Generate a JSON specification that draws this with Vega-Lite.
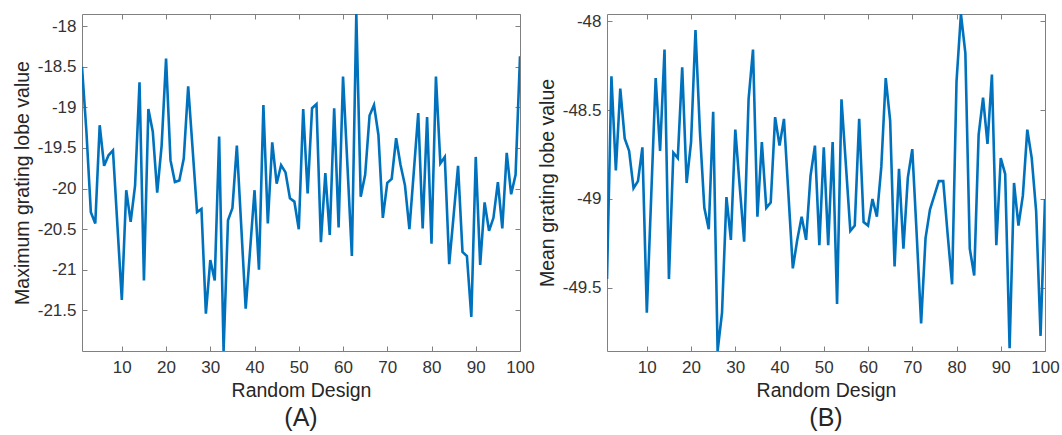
{
  "$schema": "https://vega.github.io/schema/vega-lite/v6.json",
  "autosize": {"type": "pad"},
  "padding": {"left": 12, "top": 12, "right": 0, "bottom": 0},
  "background": "white",
  "spacing": 2,
  "config": {
    "font": "Liberation Sans",
    "view": {"stroke": null},
    "axis": {
      "domainColor": "#808080",
      "tickColor": "#808080",
      "labelColor": "#333333",
      "titleColor": "#262626",
      "labelFontSize": 17,
      "titleFontSize": 19.5,
      "titleFontWeight": "normal",
      "grid": false,
      "tickSize": -5,
      "domainWidth": 1,
      "tickWidth": 1
    },
    "title": {"fontSize": 25, "fontWeight": "normal", "color": "#262626"}
  },
  "datasets": {
    "a": [
      {"design": 1, "value": -18.5}, {"design": 2, "value": -19.3}, {"design": 3, "value": -20.29}, {"design": 4, "value": -20.43}, {"design": 5, "value": -19.22},
      {"design": 6, "value": -19.72}, {"design": 7, "value": -19.59}, {"design": 8, "value": -19.53}, {"design": 9, "value": -20.45}, {"design": 10, "value": -21.37},
      {"design": 11, "value": -20.02}, {"design": 12, "value": -20.41}, {"design": 13, "value": -19.96}, {"design": 14, "value": -18.69}, {"design": 15, "value": -21.13},
      {"design": 16, "value": -19.02}, {"design": 17, "value": -19.3}, {"design": 18, "value": -20.05}, {"design": 19, "value": -19.47}, {"design": 20, "value": -18.4},
      {"design": 21, "value": -19.65}, {"design": 22, "value": -19.92}, {"design": 23, "value": -19.9}, {"design": 24, "value": -19.63}, {"design": 25, "value": -18.74},
      {"design": 26, "value": -19.51}, {"design": 27, "value": -20.29}, {"design": 28, "value": -20.25}, {"design": 29, "value": -21.54}, {"design": 30, "value": -20.88},
      {"design": 31, "value": -21.13}, {"design": 32, "value": -19.36}, {"design": 33, "value": -22.0}, {"design": 34, "value": -20.39}, {"design": 35, "value": -20.24},
      {"design": 36, "value": -19.47}, {"design": 37, "value": -20.47}, {"design": 38, "value": -21.48}, {"design": 39, "value": -20.75}, {"design": 40, "value": -20.02},
      {"design": 41, "value": -21.0}, {"design": 42, "value": -18.97}, {"design": 43, "value": -20.43}, {"design": 44, "value": -19.43}, {"design": 45, "value": -19.94},
      {"design": 46, "value": -19.71}, {"design": 47, "value": -19.8}, {"design": 48, "value": -20.12}, {"design": 49, "value": -20.16}, {"design": 50, "value": -20.5},
      {"design": 51, "value": -19.02}, {"design": 52, "value": -20.06}, {"design": 53, "value": -19.01}, {"design": 54, "value": -18.96}, {"design": 55, "value": -20.66},
      {"design": 56, "value": -19.81}, {"design": 57, "value": -20.57}, {"design": 58, "value": -19.01}, {"design": 59, "value": -20.48}, {"design": 60, "value": -18.62},
      {"design": 61, "value": -19.72}, {"design": 62, "value": -20.83}, {"design": 63, "value": -17.85}, {"design": 64, "value": -20.1}, {"design": 65, "value": -19.83},
      {"design": 66, "value": -19.1}, {"design": 67, "value": -18.97}, {"design": 68, "value": -19.34}, {"design": 69, "value": -20.36}, {"design": 70, "value": -19.93},
      {"design": 71, "value": -19.88}, {"design": 72, "value": -19.38}, {"design": 73, "value": -19.71}, {"design": 74, "value": -19.96}, {"design": 75, "value": -20.5},
      {"design": 76, "value": -19.79}, {"design": 77, "value": -19.07}, {"design": 78, "value": -20.49}, {"design": 79, "value": -19.12}, {"design": 80, "value": -20.68},
      {"design": 81, "value": -18.62}, {"design": 82, "value": -19.69}, {"design": 83, "value": -19.61}, {"design": 84, "value": -20.93}, {"design": 85, "value": -20.33},
      {"design": 86, "value": -19.72}, {"design": 87, "value": -20.78}, {"design": 88, "value": -20.83}, {"design": 89, "value": -21.58}, {"design": 90, "value": -19.61},
      {"design": 91, "value": -20.94}, {"design": 92, "value": -20.17}, {"design": 93, "value": -20.52}, {"design": 94, "value": -20.36}, {"design": 95, "value": -19.92},
      {"design": 96, "value": -20.49}, {"design": 97, "value": -19.56}, {"design": 98, "value": -20.07}, {"design": 99, "value": -19.83}, {"design": 100, "value": -18.37}
    ],
    "b": [
      {"design": 1, "value": -49.45}, {"design": 2, "value": -48.31}, {"design": 3, "value": -48.84}, {"design": 4, "value": -48.38}, {"design": 5, "value": -48.66},
      {"design": 6, "value": -48.73}, {"design": 7, "value": -48.94}, {"design": 8, "value": -48.9}, {"design": 9, "value": -48.71}, {"design": 10, "value": -49.64},
      {"design": 11, "value": -48.98}, {"design": 12, "value": -48.32}, {"design": 13, "value": -48.73}, {"design": 14, "value": -48.16}, {"design": 15, "value": -49.45},
      {"design": 16, "value": -48.74}, {"design": 17, "value": -48.77}, {"design": 18, "value": -48.26}, {"design": 19, "value": -48.91}, {"design": 20, "value": -48.68},
      {"design": 21, "value": -48.05}, {"design": 22, "value": -48.62}, {"design": 23, "value": -49.05}, {"design": 24, "value": -49.17}, {"design": 25, "value": -48.51},
      {"design": 26, "value": -49.855}, {"design": 27, "value": -49.64}, {"design": 28, "value": -48.99}, {"design": 29, "value": -49.23}, {"design": 30, "value": -48.61},
      {"design": 31, "value": -48.93}, {"design": 32, "value": -49.24}, {"design": 33, "value": -48.44}, {"design": 34, "value": -48.16}, {"design": 35, "value": -49.1},
      {"design": 36, "value": -48.68}, {"design": 37, "value": -49.05}, {"design": 38, "value": -49.02}, {"design": 39, "value": -48.54}, {"design": 40, "value": -48.7},
      {"design": 41, "value": -48.55}, {"design": 42, "value": -48.97}, {"design": 43, "value": -49.39}, {"design": 44, "value": -49.23}, {"design": 45, "value": -49.1},
      {"design": 46, "value": -49.23}, {"design": 47, "value": -48.87}, {"design": 48, "value": -48.7}, {"design": 49, "value": -49.26}, {"design": 50, "value": -48.71},
      {"design": 51, "value": -49.26}, {"design": 52, "value": -48.68}, {"design": 53, "value": -49.59}, {"design": 54, "value": -48.44}, {"design": 55, "value": -48.81},
      {"design": 56, "value": -49.18}, {"design": 57, "value": -49.15}, {"design": 58, "value": -48.55}, {"design": 59, "value": -49.13}, {"design": 60, "value": -49.15},
      {"design": 61, "value": -49.0}, {"design": 62, "value": -49.1}, {"design": 63, "value": -48.82}, {"design": 64, "value": -48.32}, {"design": 65, "value": -48.56},
      {"design": 66, "value": -49.38}, {"design": 67, "value": -48.83}, {"design": 68, "value": -49.28}, {"design": 69, "value": -48.88}, {"design": 70, "value": -48.72},
      {"design": 71, "value": -49.2}, {"design": 72, "value": -49.7}, {"design": 73, "value": -49.22}, {"design": 74, "value": -49.06}, {"design": 75, "value": -48.98},
      {"design": 76, "value": -48.9}, {"design": 77, "value": -48.9}, {"design": 78, "value": -49.2}, {"design": 79, "value": -49.48}, {"design": 80, "value": -48.34},
      {"design": 81, "value": -47.96}, {"design": 82, "value": -48.18}, {"design": 83, "value": -49.28}, {"design": 84, "value": -49.43}, {"design": 85, "value": -48.64},
      {"design": 86, "value": -48.43}, {"design": 87, "value": -48.69}, {"design": 88, "value": -48.3}, {"design": 89, "value": -49.26}, {"design": 90, "value": -48.77},
      {"design": 91, "value": -48.86}, {"design": 92, "value": -49.84}, {"design": 93, "value": -48.91}, {"design": 94, "value": -49.15}, {"design": 95, "value": -48.98},
      {"design": 96, "value": -48.61}, {"design": 97, "value": -48.77}, {"design": 98, "value": -49.07}, {"design": 99, "value": -49.77}, {"design": 100, "value": -49.0}
    ]
  },
  "hconcat": [
    {
      "width": 438,
      "height": 337,
      "data": {"name": "a"},
      "title": {"text": "(A)", "orient": "bottom", "anchor": "middle", "offset": 6},
      "resolve": {"axis": {"x": "independent", "y": "independent"}},
      "layer": [
        {
          "mark": {"type": "line", "color": "#0072BD", "strokeWidth": 2.6, "clip": true},
          "encoding": {
            "x": {"field": "design", "type": "quantitative", "scale": {"domain": [1, 100], "nice": false, "zero": false},
                  "axis": {"orient": "bottom", "values": [10, 20, 30, 40, 50, 60, 70, 80, 90, 100], "title": "Random Design", "labelPadding": 13, "titlePadding": 6, "labelFlush": false}},
            "y": {"field": "value", "type": "quantitative", "scale": {"domain": [-22.0, -17.85], "nice": false, "zero": false},
                  "axis": {"orient": "left", "values": [-21.5, -21, -20.5, -20, -19.5, -19, -18.5, -18], "labelExpr": "'' + datum.value", "title": "Maximum grating lobe value", "labelPadding": 11, "titlePadding": 5}}
          }
        },
        {
          "mark": {"type": "line", "opacity": 0},
          "encoding": {
            "x": {"field": "design", "type": "quantitative", "axis": {"orient": "top", "values": [10, 20, 30, 40, 50, 60, 70, 80, 90, 100], "labels": false, "title": null}},
            "y": {"field": "value", "type": "quantitative", "axis": {"orient": "right", "values": [-21.5, -21, -20.5, -20, -19.5, -19, -18.5, -18], "labels": false, "title": null}}
          }
        }
      ]
    },
    {
      "width": 438,
      "height": 337,
      "data": {"name": "b"},
      "title": {"text": "(B)", "orient": "bottom", "anchor": "middle", "offset": 6},
      "resolve": {"axis": {"x": "independent", "y": "independent"}},
      "layer": [
        {
          "mark": {"type": "line", "color": "#0072BD", "strokeWidth": 2.6, "clip": true},
          "encoding": {
            "x": {"field": "design", "type": "quantitative", "scale": {"domain": [1, 100], "nice": false, "zero": false},
                  "axis": {"orient": "bottom", "values": [10, 20, 30, 40, 50, 60, 70, 80, 90, 100], "title": "Random Design", "labelPadding": 13, "titlePadding": 6, "labelFlush": false}},
            "y": {"field": "value", "type": "quantitative", "scale": {"domain": [-49.855, -47.96], "nice": false, "zero": false},
                  "axis": {"orient": "left", "values": [-49.5, -49, -48.5, -48], "labelExpr": "'' + datum.value", "title": "Mean grating lobe value", "labelPadding": 11, "titlePadding": 5}}
          }
        },
        {
          "mark": {"type": "line", "opacity": 0},
          "encoding": {
            "x": {"field": "design", "type": "quantitative", "axis": {"orient": "top", "values": [10, 20, 30, 40, 50, 60, 70, 80, 90, 100], "labels": false, "title": null}},
            "y": {"field": "value", "type": "quantitative", "axis": {"orient": "right", "values": [-49.5, -49, -48.5, -48], "labels": false, "title": null}}
          }
        }
      ]
    }
  ]
}
